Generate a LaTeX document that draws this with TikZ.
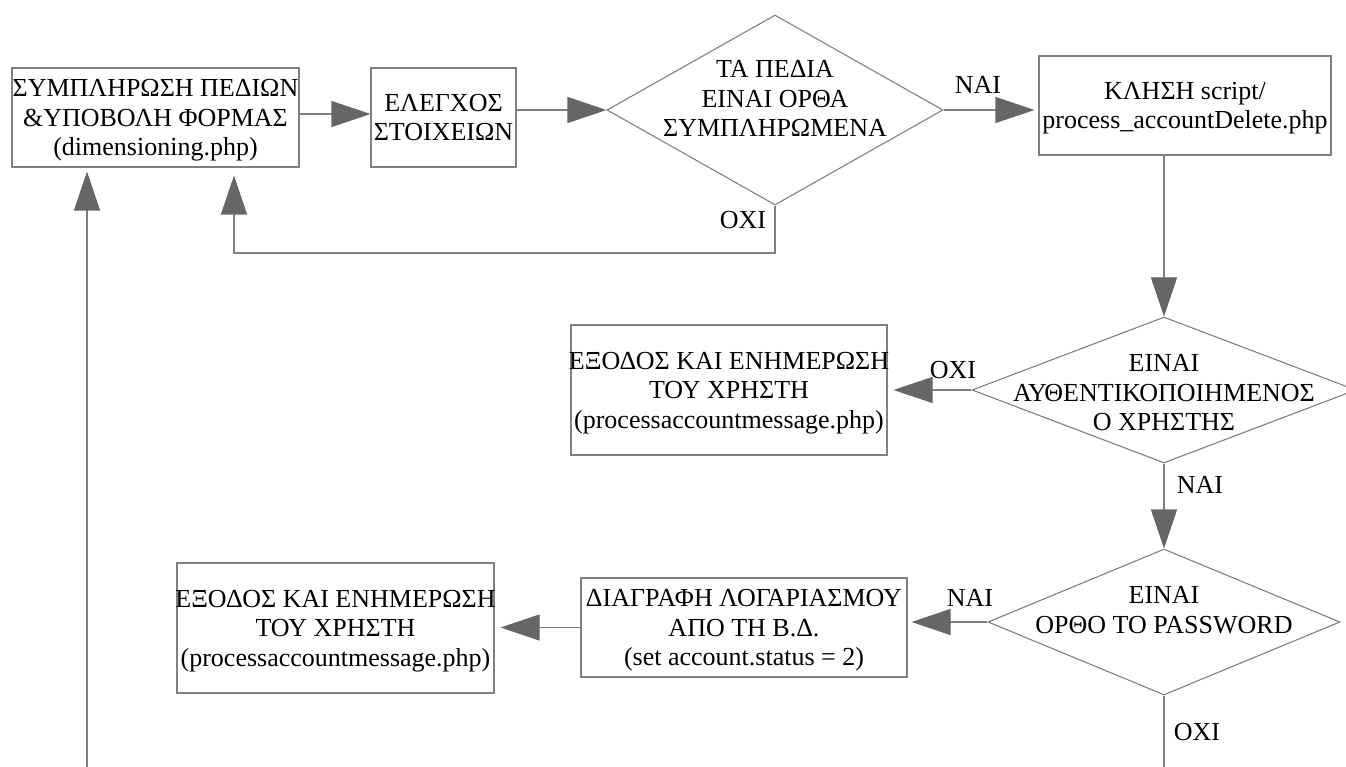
\documentclass[tikz,border=0pt]{standalone}
\usepackage{fontspec}
\setmainfont{Liberation Serif}
\usetikzlibrary{shapes.geometric,arrows.meta}
\definecolor{linegray}{HTML}{808080}
\definecolor{tipgray}{HTML}{666666}
% a line that may run past its box, centred on the box
\newcommand{\wideline}[1]{\makebox[0pt]{#1}}
\begin{document}
\begin{tikzpicture}[x=1pt,y=-1pt,
  every node/.style={font=\fontsize{26}{29.5}\selectfont, inner sep=0pt},
  box/.style={draw=linegray, line width=1.1pt, align=center},
  dia/.style={diamond, draw=linegray, line width=1.1pt},
  txt/.style={align=center},
  flow/.style={draw=linegray, line width=1.1pt, -{Triangle[length=39pt,width=26pt,color=tipgray]}},
  link/.style={draw=linegray, line width=1.1pt}]
\useasboundingbox (0,0) rectangle (1346,767);

% process boxes (text depth lowers the text block a little inside each box)
\node[box, minimum width=287pt, minimum height=99pt, text depth=-3pt] (b1) at (155.5,117.5)
  {\wideline{ΣΥΜΠΛΗΡΩΣΗ ΠΕΔΙΩΝ}\\\wideline{\&ΥΠΟΒΟΛΗ ΦΟΡΜΑΣ}\\\wideline{(dimensioning.php)}};
\node[box, minimum width=145pt, minimum height=99pt] (b2) at (443.5,117.5)
  {\wideline{ΕΛΕΓΧΟΣ}\\\wideline{ΣΤΟΙΧΕΙΩΝ}};
\node[box, minimum width=292pt, minimum height=99pt, text depth=-8pt] (b3) at (1185,105.5)
  {\wideline{ΚΛΗΣΗ script/}\\\wideline{process\_accountDelete.php}};
\node[box, minimum width=316pt, minimum height=130pt, text depth=-7pt] (b4) at (729,390)
  {\wideline{ΕΞΟΔΟΣ ΚΑΙ ΕΝΗΜΕΡΩΣΗ}\\\wideline{ΤΟΥ ΧΡΗΣΤΗ}\\\wideline{(processaccountmessage.php)}};
\node[box, minimum width=326pt, minimum height=99pt, text depth=-7pt] (b5) at (744,627.5)
  {\wideline{ΔΙΑΓΡΑΦΗ ΛΟΓΑΡΙΑΣΜΟΥ}\\\wideline{ΑΠΟ ΤΗ Β.Δ.}\\\wideline{(set account.status = 2)}};
\node[box, minimum width=317pt, minimum height=130pt, text depth=-5pt] (b6) at (335.5,628)
  {\wideline{ΕΞΟΔΟΣ ΚΑΙ ΕΝΗΜΕΡΩΣΗ}\\\wideline{ΤΟΥ ΧΡΗΣΤΗ}\\\wideline{(processaccountmessage.php)}};

% decisions
\node[dia, minimum width=336pt, minimum height=190pt] (d1) at (775,110) {};
\node[txt] (d1t) at (775,98.5) {ΤΑ ΠΕΔΙΑ\\ΕΙΝΑΙ ΟΡΘΑ\\ΣΥΜΠΛΗΡΩΜΕΝΑ};
\node[dia, minimum width=384pt, minimum height=146pt] (d2) at (1164,390) {};
\node[txt] (d2t) at (1164,393) {ΕΙΝΑΙ\\ΑΥΘΕΝΤΙΚΟΠΟΙΗΜΕΝΟΣ\\Ο ΧΡΗΣΤΗΣ};
\node[dia, minimum width=352pt, minimum height=146pt] (d3) at (1164,622) {};
\node[txt] (d3t) at (1164,610) {ΕΙΝΑΙ\\ΟΡΘΟ ΤΟ PASSWORD};

% branch labels
\node (l1) at (978,85) {ΝΑΙ};
\node (l2) at (743,220) {ΟΧΙ};
\node (l3) at (953,370) {ΟΧΙ};
\node (l4) at (1200,485) {ΝΑΙ};
\node (l5) at (970,598) {ΝΑΙ};
\node (l6) at (1197,732) {ΟΧΙ};

% free ends and bends
\coordinate (in1) at (87,767);
\coordinate (out3) at (1164,767);
\coordinate (fb) at (234,253);

% connectors
\draw[flow] ([yshift=3.5pt]b1.east) -- ([yshift=3.5pt]b2.west);
\draw[flow] (b2.east |- d1.west) -- (d1.west);
\draw[flow, shorten >=4pt] (d1.east) -- (d1.east -| b3.west);
\draw[flow] (d2.north |- b3.south) -- (d2.north);
\draw[flow, shorten >=6pt] (d2.west) -- (d2.west -| b4.east);
\draw[flow] (d2.south) -- (d3.north);
\draw[flow, shorten >=4pt] (d3.west) -- (d3.west -| b5.east);
\draw[flow, shorten >=6pt] (b5.west) -- (b5.west -| b6.east);
\draw[link] (d3.south) -- (out3);
\draw[flow, shorten >=4pt] (in1) -- (in1 |- b1.south);
\draw[flow, shorten >=8pt] (d1.south) |- (fb) -- (fb |- b1.south);
\end{tikzpicture}
\end{document}
